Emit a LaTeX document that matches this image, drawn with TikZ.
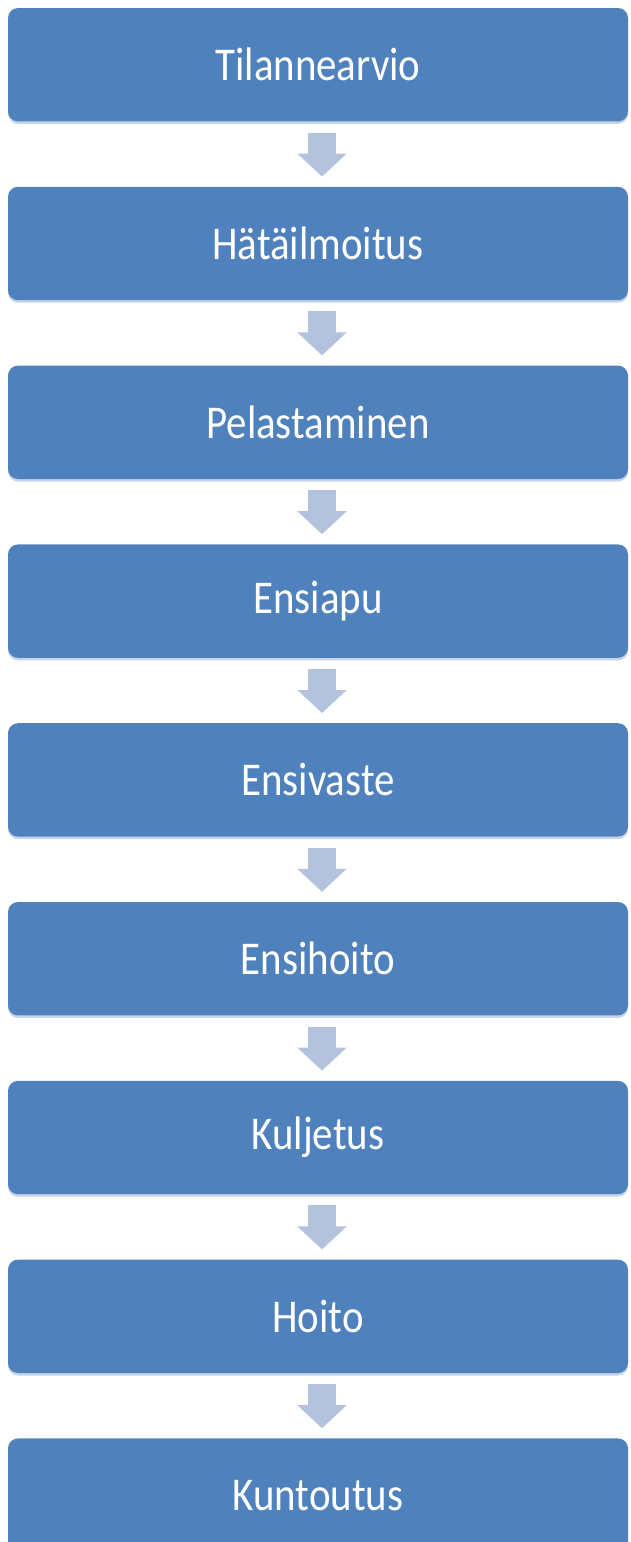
\documentclass[tikz,border=0pt]{standalone}
\usepackage{fontspec}
\setmainfont{Carlito}
\usetikzlibrary{arrows.meta}
\usetikzlibrary{positioning}
\usetikzlibrary{shadows}
\definecolor{stageblue}{HTML}{4F81BD}
\definecolor{stageshade}{HTML}{C6D4EA}
\definecolor{flowarrow}{HTML}{B3C2DD}
\newcommand\narrowtext[1]{\scalebox{0.87}[1]{#1}}
\tikzset{stage/.style = {fill=stageblue, text=white, rounded corners=10pt,
                         minimum width=620pt, minimum height=113.4pt,
                         inner sep=0pt, font=\fontsize{47}{56}\selectfont,
                         general shadow={fill=stageshade, shadow yshift=-2.5pt}}}
\tikzset{flow/.style = {draw=flowarrow, line width=28pt,
                        -{Triangle[width=48pt, length=23pt]},
                        shorten <=11pt, shorten >=10pt}}

\begin{document}
\begin{tikzpicture}[x=1pt, y=-1pt, node distance=65pt]
      \useasboundingbox (0, 0) rectangle (630, 1542);
      \clip (0, 0) rectangle (630, 1542);

      \node [stage] (s1) at (318, 64.7) {\narrowtext{Tilannearvio}};
      \node [stage, below=of s1] (s2) {\narrowtext{Hätäilmoitus}};
      \node [stage, below=of s2] (s3) {\narrowtext{Pelastaminen}};
      \node [stage, below=of s3] (s4) {\narrowtext{Ensiapu}};
      \node [stage, below=of s4] (s5) {\narrowtext{Ensivaste}};
      \node [stage, below=of s5] (s6) {\narrowtext{Ensihoito}};
      \node [stage, below=of s6] (s7) {\narrowtext{Kuljetus}};
      \node [stage, below=of s7] (s8) {\narrowtext{Hoito}};
      \node [stage, below=of s8] (s9) {\narrowtext{Kuntoutus}};

      \foreach \a/\b in {s1/s2, s2/s3, s3/s4, s4/s5, s5/s6, s6/s7, s7/s8, s8/s9} {
        \draw [flow] ([xshift=4pt]\a.south) -- ([xshift=4pt]\b.north);
      }
    \end{tikzpicture}
\end{document}
